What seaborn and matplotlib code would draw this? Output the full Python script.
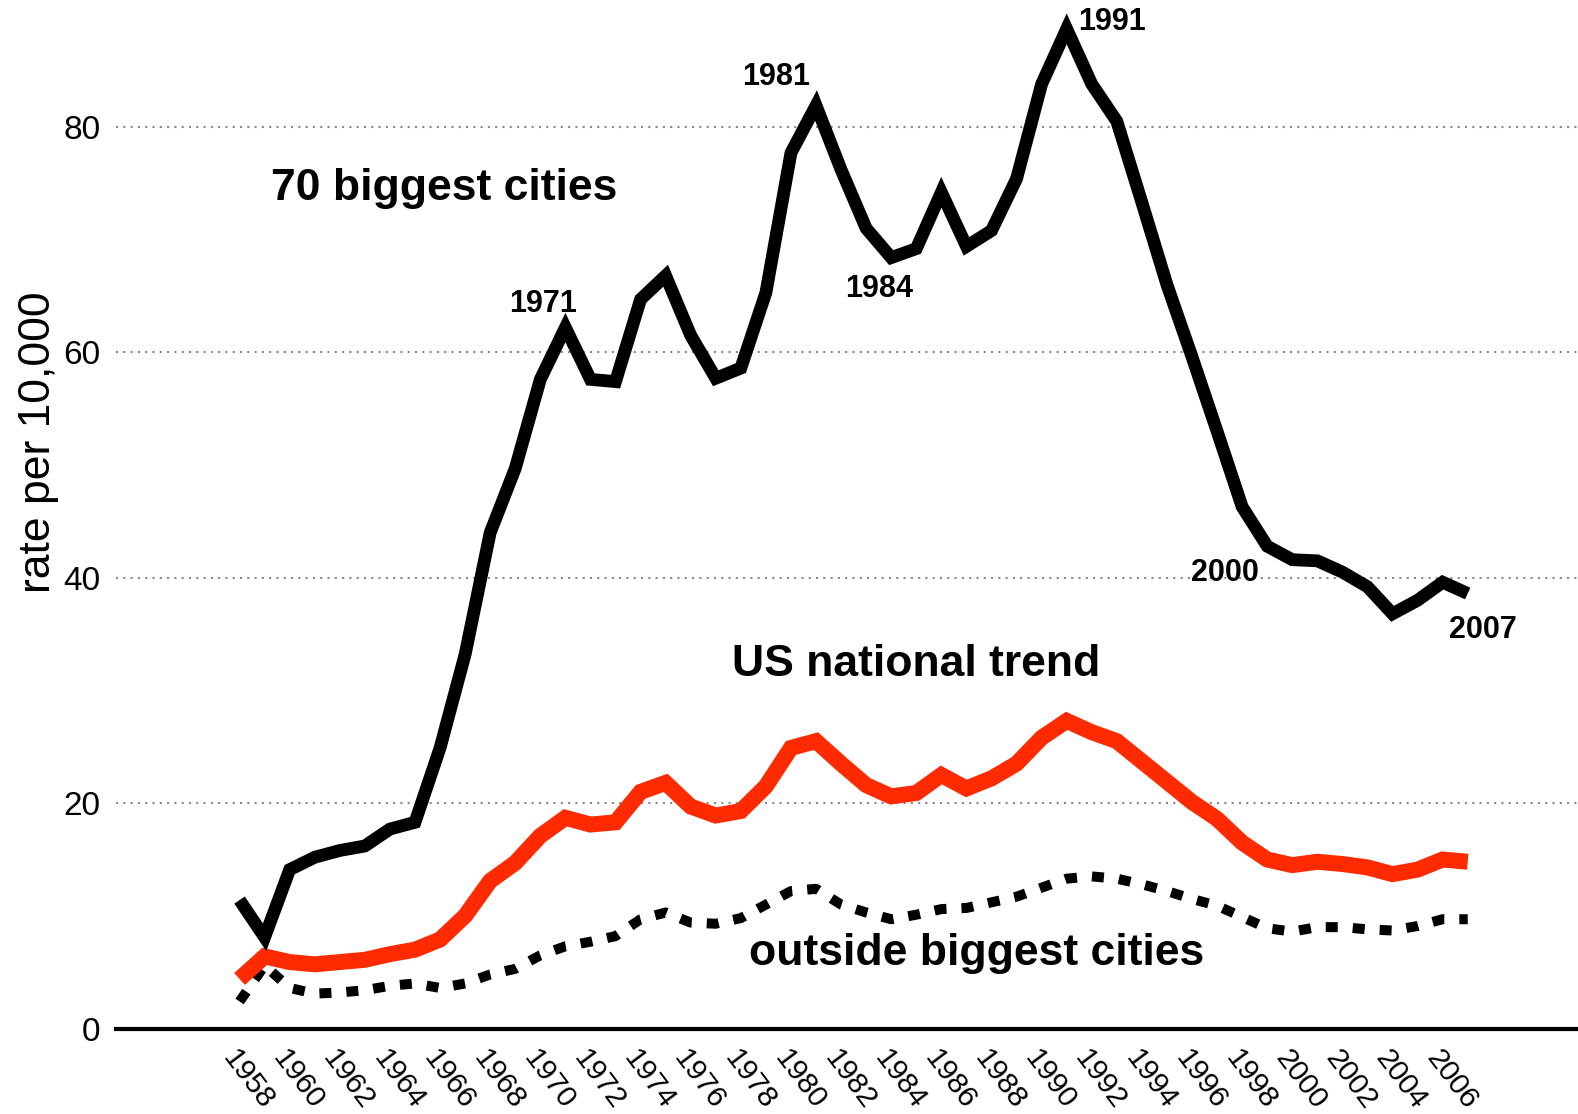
import matplotlib
matplotlib.use("Agg")
import matplotlib.pyplot as plt
import seaborn as sns
import numpy as np
import pandas as pd

years = list(range(1958, 2008))

# rate per 10,000
big_cities = [11.4, 8.1, 14.1, 15.2, 15.8, 16.2, 17.7, 18.3, 24.9, 33.2,
              44.0, 49.7, 57.6, 62.2, 57.6, 57.4, 64.7, 66.8, 61.5, 57.7,
              58.6, 65.3, 77.7, 81.9, 76.2, 71.0, 68.4, 69.2, 74.2, 69.4,
              70.8, 75.4, 83.8, 88.7, 83.8, 80.5, 73.3, 66.0, 59.6, 53.0,
              46.3, 42.8, 41.6, 41.5, 40.5, 39.2, 36.8, 38.0, 39.6, 38.6]
us_national = [4.4, 6.4, 5.9, 5.7, 5.9, 6.1, 6.6, 7.0, 7.9, 10.0,
               13.1, 14.7, 17.1, 18.7, 18.1, 18.3, 21.0, 21.8, 19.7, 18.9,
               19.3, 21.5, 24.9, 25.5, 23.5, 21.6, 20.6, 20.9, 22.5, 21.3,
               22.2, 23.5, 25.8, 27.3, 26.3, 25.5, 23.7, 21.9, 20.1, 18.6,
               16.5, 15.0, 14.5, 14.8, 14.6, 14.3, 13.7, 14.1, 15.0, 14.8]
outside = [2.4, 5.6, 3.6, 3.1, 3.2, 3.4, 3.8, 4.0, 3.6, 4.0,
           4.8, 5.3, 6.5, 7.3, 7.7, 8.2, 9.7, 10.3, 9.4, 9.3,
           9.8, 11.0, 12.2, 12.4, 11.0, 10.3, 9.7, 10.1, 10.6, 10.7,
           11.2, 11.7, 12.5, 13.3, 13.5, 13.3, 12.8, 12.2, 11.5, 10.9,
           9.9, 8.9, 8.6, 9.0, 9.0, 8.8, 8.7, 9.1, 9.7, 9.7]

series_labels = ["70 biggest cities", "US national trend", "outside biggest cities"]
series_label_pos = [(1966.15, 74.5), (1985.0, 32.3), (1987.4, 6.7)]
year_notes = ["1971", "1981", "1984", "1991", "2000", "2007"]
year_note_pos = [(1970.1, 64.3), (1979.4, 84.4), (1983.5, 65.6),
                 (1992.8, 89.3), (1997.3, 40.4), (2007.6, 35.4)]

df = pd.DataFrame({"year": years, "big": big_cities,
                   "us": us_national, "outside": outside})

sns.set_style("white")
plt.rcParams["font.family"] = ["Liberation Sans", "DejaVu Sans"]
plt.rcParams["text.color"] = "black"
plt.rcParams["axes.labelcolor"] = "black"
plt.rcParams["xtick.color"] = "black"
plt.rcParams["ytick.color"] = "black"

fig = plt.figure(figsize=(15.78, 11.14), dpi=100)
ax = fig.add_axes([0.0735, 0.0767, 0.9265, 0.9233])

sns.lineplot(data=df, x="year", y="outside", ax=ax, color="black", lw=7.2,
             linestyle=(0, (1.2, 1.5)), dash_capstyle="butt")
sns.lineplot(data=df, x="year", y="us", ax=ax, color="#ff2a00", lw=11.5,
             solid_joinstyle="miter", solid_capstyle="butt")
sns.lineplot(data=df, x="year", y="big", ax=ax, color="black", lw=9.2,
             solid_joinstyle="miter", solid_capstyle="butt")

ax.set_xlim(1953.07, 2011.4)
ax.set_ylim(0, 91.26)

ax.set_yticks([0, 20, 40, 60, 80])
ax.grid(axis="y", color="#888888", lw=1.5, linestyle=(0, (1, 2.5)))
ax.set_axisbelow(True)
ax.tick_params(axis="y", direction="in", length=21, width=1.6, pad=11,
               labelsize=24, colors="black")

ax.set_xticks(years)
ax.set_xticklabels([str(y) if y % 2 == 0 else "" for y in years])
ax.tick_params(axis="x", direction="in", length=16, width=1.5, pad=12,
               labelsize=21.5, colors="black")
plt.setp(ax.get_xticklabels(), rotation=-53, ha="left", va="top",
         rotation_mode="anchor")

for side in ["left", "top", "right"]:
    ax.spines[side].set_visible(False)
ax.spines["bottom"].set_linewidth(3)
ax.spines["bottom"].set_color("black")

ax.set_xlabel("")
ax.set_ylabel("rate per 10,000", fontsize=32, color="black")
ax.yaxis.set_label_coords(-0.039, 0.57)

for label, (x, y) in zip(series_labels, series_label_pos):
    ax.text(x, y, label, fontsize=32, fontweight="bold", ha="center",
            va="center", color="black")
for label, (x, y) in zip(year_notes, year_note_pos):
    ax.text(x, y, label, fontsize=22, fontweight="bold", ha="center",
            va="center", color="black")

fig.savefig("out.png", dpi=100)
